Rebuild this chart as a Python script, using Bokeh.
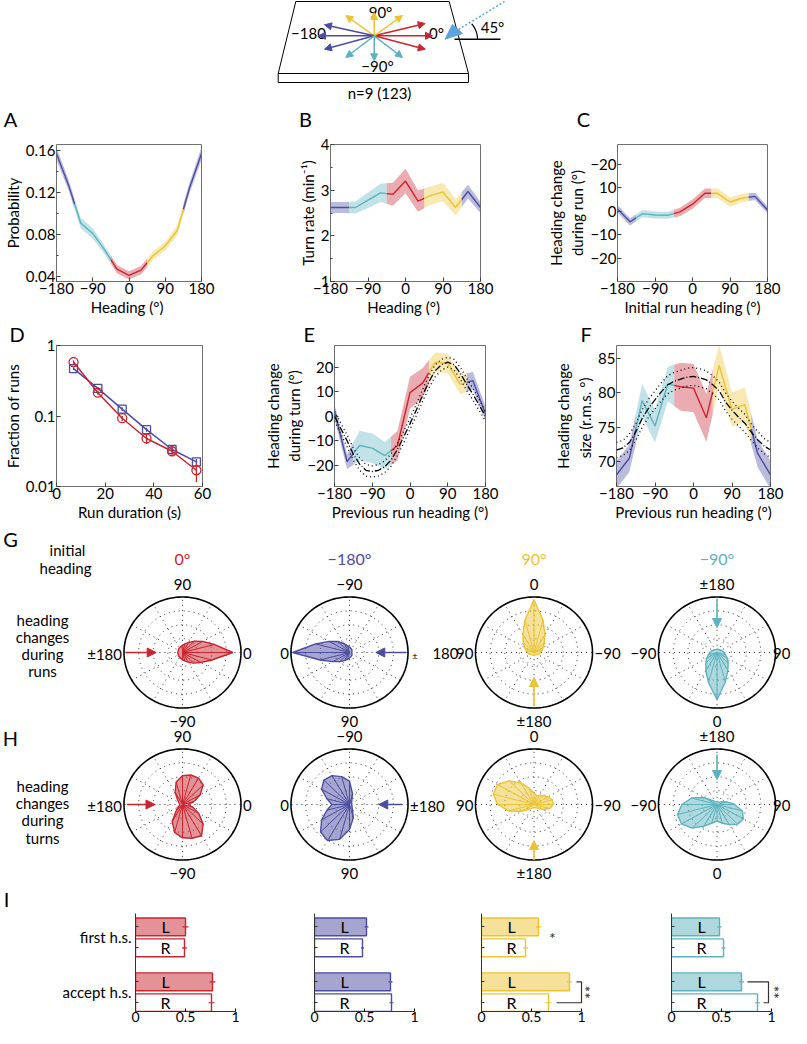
import numpy as np
from bokeh.plotting import figure
from bokeh.models import Range1d, FixedTicker, Arrow, NormalHead, Title
from bokeh.layouts import column, row
from bokeh.embed import file_html
from bokeh.resources import INLINE
from bokeh.core.properties import value

FONT = "Lato"
RED, BLUE, YEL, CYA = "#c8252f", "#4c4ca2", "#ebc433", "#5db2bd"

# ---------------- data ----------------
heading = [-180, -150, -120, -90, -60, -30, 0, 30, 60, 90, 120, 150, 180]
prob = [0.157, 0.127, 0.091, 0.081, 0.065, 0.047, 0.041, 0.046, 0.060, 0.069, 0.084, 0.124, 0.157]
prob_err = [0.006, 0.005, 0.005, 0.005, 0.004, 0.004, 0.004, 0.004, 0.004, 0.004, 0.005, 0.005, 0.006]
turn_rate = [2.62, 2.62, 2.62, 2.78, 2.94, 2.91, 3.20, 2.76, 2.88, 2.96, 2.62, 2.97, 2.62]
turn_rate_err = [0.12, 0.12, 0.13, 0.17, 0.20, 0.25, 0.27, 0.23, 0.20, 0.20, 0.18, 0.15, 0.12]
run_change = [1.0, -4.5, -1.0, -1.6, -1.7, -0.3, 3.0, 7.6, 7.6, 3.9, 5.6, 6.3, 0.5]
run_change_err = [1.5, 1.5, 1.5, 1.5, 1.5, 1.8, 2.0, 2.0, 2.0, 2.0, 1.8, 1.5, 1.5]
turn_change = [2.0, -18.5, -11.9, -13.0, -16.0, -12.0, 9.6, 13.5, 22.0, 21.5, 13.0, 14.5, 1.0]
turn_change_err = [3.0, 3.0, 6.0, 6.0, 5.5, 6.0, 6.5, 6.0, 4.0, 4.0, 4.0, 3.5, 3.0]
turn_size = [68.1, 70.5, 78.9, 75.2, 81.3, 80.9, 80.7, 76.4, 84.0, 77.6, 78.3, 71.2, 68.1]
turn_size_err = [2.0, 2.0, 2.4, 2.4, 2.5, 3.5, 3.5, 3.5, 3.0, 2.5, 2.5, 2.0, 2.0]

fit_heading = [-180, -165, -150, -135, -120, -105, -90, -75, -60, -45, -30, -15, 0,
               15, 30, 45, 60, 75, 90, 105, 120, 135, 150, 165, 180]
turn_change_fit = [0, -5, -10, -15.5, -19.5, -22, -22.5, -22, -20.5, -17.8, -13.5, -8.5, -3,
                   2.5, 8.5, 14, 18.5, 21, 22, 21, 17.5, 13, 9, 4.5, 0]
turn_change_ci = [2.0, 2.2, 2.4, 2.5, 2.5, 2.4, 2.3, 2.3, 2.4, 2.5, 2.5, 2.4, 2.3,
                  2.3, 2.4, 2.5, 2.4, 2.2, 2.0, 2.2, 2.4, 2.5, 2.4, 2.2, 2.0]
turn_size_fit = [71.7, 72.0, 72.8, 74.3, 76.3, 77.8, 79.0, 80.2, 81.2, 81.7, 82.0, 82.3, 82.4,
                 82.2, 81.9, 81.2, 80.3, 78.7, 77.5, 76.5, 75.6, 74.3, 73.2, 72.3, 71.7]
turn_size_ci = [1.1, 1.1, 1.2, 1.2, 1.3, 1.3, 1.3, 1.3, 1.3, 1.3, 1.3, 1.3, 1.3,
                1.3, 1.3, 1.3, 1.3, 1.3, 1.3, 1.3, 1.3, 1.2, 1.2, 1.1, 1.1]

duration = [7, 17, 27, 37, 47.5, 57.5]
frac_red = [0.583, 0.214, 0.093, 0.048, 0.0316, 0.017]
frac_red_lo = [0.55, 0.20, 0.085, 0.040, 0.027, 0.0115]
frac_red_hi = [0.62, 0.23, 0.100, 0.056, 0.037, 0.021]
frac_blue = [0.47, 0.246, 0.125, 0.064, 0.0335, 0.0224]
frac_blue_lo = [0.45, 0.235, 0.118, 0.060, 0.031, 0.0205]
frac_blue_hi = [0.49, 0.258, 0.133, 0.068, 0.036, 0.0245]

# polar distributions: heading change (deg) -> relative radius
delta = [-180, -165, -150, -135, -120, -105, -90, -75, -60, -45, -30, -15,
         0, 15, 30, 45, 60, 75, 90, 105, 120, 135, 150, 165]
run_red = [0.08, 0.08, 0.08, 0.09, 0.10, 0.11, 0.13, 0.16, 0.20, 0.27, 0.36, 0.52,
           0.86, 0.56, 0.40, 0.29, 0.21, 0.16, 0.13, 0.11, 0.10, 0.09, 0.08, 0.08]
run_blue = [0.04, 0.04, 0.05, 0.06, 0.07, 0.08, 0.10, 0.13, 0.18, 0.28, 0.40, 0.60,
            0.97, 0.52, 0.33, 0.23, 0.17, 0.13, 0.10, 0.08, 0.07, 0.06, 0.05, 0.04]
run_yellow = [0.05, 0.05, 0.05, 0.06, 0.07, 0.09, 0.11, 0.14, 0.18, 0.25, 0.37, 0.60,
              0.95, 0.60, 0.38, 0.26, 0.19, 0.14, 0.11, 0.09, 0.07, 0.06, 0.05, 0.05]
run_cyan = [0.06, 0.06, 0.06, 0.07, 0.08, 0.10, 0.12, 0.15, 0.20, 0.27, 0.38, 0.56,
            0.85, 0.55, 0.37, 0.27, 0.20, 0.15, 0.12, 0.10, 0.08, 0.07, 0.06, 0.06]
turn_red = [0.05, 0.05, 0.08, 0.15, 0.35, 0.52, 0.60, 0.63, 0.65, 0.50, 0.32, 0.18,
            0.10, 0.20, 0.35, 0.50, 0.55, 0.55, 0.52, 0.42, 0.25, 0.12, 0.07, 0.05]
turn_blue = [0.04, 0.04, 0.04, 0.05, 0.08, 0.20, 0.42, 0.52, 0.60, 0.62, 0.55, 0.40,
             0.30, 0.40, 0.55, 0.70, 0.75, 0.65, 0.45, 0.25, 0.10, 0.06, 0.05, 0.04]
turn_yellow = [0.06, 0.06, 0.07, 0.10, 0.18, 0.28, 0.33, 0.32, 0.28, 0.22, 0.18, 0.17,
               0.20, 0.30, 0.45, 0.60, 0.72, 0.72, 0.62, 0.45, 0.25, 0.12, 0.08, 0.06]
turn_cyan = [0.05, 0.05, 0.06, 0.10, 0.25, 0.45, 0.60, 0.70, 0.70, 0.60, 0.45, 0.35,
             0.30, 0.35, 0.42, 0.50, 0.52, 0.45, 0.30, 0.18, 0.10, 0.06, 0.05, 0.05]

groups = ["first h.s.", "accept h.s."]
sides = ["L", "R"]
bar_red = [0.50, 0.49, 0.77, 0.76]
bar_red_err = [0.03, 0.025, 0.03, 0.03]
bar_blue = [0.52, 0.48, 0.76, 0.77]
bar_blue_err = [0.02, 0.015, 0.02, 0.02]
bar_yellow = [0.57, 0.44, 0.88, 0.67]
bar_yellow_err = [0.025, 0.025, 0.025, 0.03]
bar_cyan = [0.48, 0.52, 0.70, 0.86]
bar_cyan_err = [0.02, 0.02, 0.025, 0.025]

segments = [(-180, -135, BLUE), (-135, -45, CYA), (-45, 45, RED), (45, 135, YEL), (135, 180, BLUE)]


# ---------------- helpers ----------------
def style(p, xticks, yticks, yminor=(), xover=None, yover=None, xlabel="", ylabel=""):
    p.grid.visible = False
    p.outline_line_color = "#707070"
    p.outline_line_width = 1
    for ax in (p.xaxis[0], p.yaxis[0]):
        ax.axis_line_color = None
        ax.major_tick_in = 4
        ax.major_tick_out = 0
        ax.minor_tick_in = 2
        ax.minor_tick_out = 0
        ax.major_tick_line_color = "#404040"
        ax.minor_tick_line_color = "#404040"
        ax.major_label_text_font = FONT
        ax.major_label_text_font_size = "15px"
        ax.major_label_text_color = "black"
        ax.axis_label_text_font = FONT
        ax.axis_label_text_font_size = "15px"
        ax.axis_label_text_font_style = "normal"
        ax.axis_label_text_color = "black"
        ax.major_label_standoff = 1
        ax.axis_label_standoff = 1
    p.xaxis[0].ticker = FixedTicker(ticks=list(xticks), minor_ticks=[])
    p.yaxis[0].ticker = FixedTicker(ticks=list(yticks), minor_ticks=list(yminor))
    if xover:
        p.xaxis[0].major_label_overrides = xover
    if yover:
        p.yaxis[0].major_label_overrides = yover
    p.xaxis[0].axis_label = xlabel
    p.yaxis[0].axis_label = ylabel


def txt(p, x, y, s, align="center", size="15px", color="black", angle=0.0):
    p.text(x=[x], y=[y], text=[s], text_align=align, text_baseline="middle", angle=angle,
           text_font=value(FONT), text_font_size=value(size), text_color=color)


def canvas(h, y0, y1):
    return figure(width=791, height=h, x_range=Range1d(8, 799), y_range=Range1d(y1, y0),
                  x_axis_type=None, y_axis_type=None, toolbar_location=None,
                  output_backend="svg", min_border=0, outline_line_color=None)


def segmented(p, x, y, e):
    x = np.asarray(x, float)
    y = np.asarray(y, float)
    e = np.asarray(e, float)
    pieces = []
    for lo, hi, c in segments:
        inner = (x > lo) & (x < hi)
        xs = np.concatenate([[lo], x[inner], [hi]])
        ys = np.interp(xs, x, y)
        es = np.interp(xs, x, e)
        pieces.append((xs, ys, es, c))
    for xs, ys, es, c in pieces:
        p.varea(x=xs, y1=ys - es, y2=ys + es, fill_color=c, fill_alpha=0.38)
    for xs, ys, es, c in pieces:
        p.line(xs, ys, line_color=c, line_width=1.4)


def fig(w, h, bl, br, bt, bb, **kw):
    return figure(width=w, height=h, toolbar_location=None, output_backend="svg",
                  min_border_left=bl, min_border_right=br, min_border_top=bt,
                  min_border_bottom=bb, **kw)


def panel_letter(p, s, offset):
    p.add_layout(Title(text=s, align="left", offset=offset, standoff=0, text_font=FONT,
                       text_font_size=LETTER, text_font_style="normal", text_color="black"), "above")


HX = [-180, -90, 0, 90, 180]
HXO = {-180: "\u2212180", -90: "\u221290"}
LETTER = "20px"

# ---------------- row 0: schematic + letters A B C ----------------
sch = canvas(132, 8, 140)
sch.patch([303.3, 456.7, 476, 285.7], [9, 9, 81, 81], fill_color="white", line_color="black", line_width=1)
sch.patch([285.7, 476, 476, 285.7], [81, 81, 90, 90], fill_color="white", line_color="black", line_width=1)
ox, oy = 381.7, 43.3
sch_arrows = [(RED, 432.7, 31), (RED, 440, 43.3), (RED, 432.7, 56.7),
              (YEL, 381.7, 20), (YEL, 353.3, 23), (YEL, 410, 23),
              (BLUE, 332, 32.3), (BLUE, 326, 43.3), (BLUE, 332, 56.7),
              (CYA, 381.7, 68.3), (CYA, 353.3, 65), (CYA, 410, 65)]
for c, ex, ey in sch_arrows:
    sch.add_layout(Arrow(end=NormalHead(size=7, fill_color=c, line_color=c),
                         x_start=ox, y_start=oy, x_end=ex, y_end=ey, line_color=c, line_width=1.5))
sch.patch([452.5, 460, 470], [46.7, 32, 41], fill_color="#5aa3de", line_color="#5aa3de")
sch.line([466, 512], [37, 9], line_color="#5aa3de", line_dash="2 2", line_width=1.5)
sch.line([462, 508], [46.7, 46.7], line_color="black", line_width=1.5)
arc_t = np.radians(np.linspace(0, 42, 20))
sch.line(462 + 23 * np.cos(arc_t), 46.7 - 23 * np.sin(arc_t), line_color="black", line_width=1.2)
for s, x, y in [("90\u00b0", 388, 19), ("\u2212180", 316, 41), ("0\u00b0", 444, 40),
                ("\u221290\u00b0", 385, 73), ("45\u00b0", 500, 34), ("n=9 (123)", 387, 100)]:
    txt(sch, x, y, s)
for s, x in [("A", 18), ("B", 313), ("C", 591)]:
    txt(sch, x, 126.5, s, size=LETTER)

# ---------------- row 1: A B C ----------------
pA = fig(260, 186, 51, 59, 7, 35, x_range=Range1d(-180, 180), y_range=Range1d(0.0352, 0.1657))
segmented(pA, heading, prob, prob_err)
style(pA, HX, [0.04, 0.08, 0.12, 0.16], [0.06, 0.10, 0.14], HXO, None, "Heading  (\u00b0)", "Probability")

pB = fig(277, 186, 70, 57, 10, 32, x_range=Range1d(-180, 180), y_range=Range1d(1, 4))
segmented(pB, heading, turn_rate, turn_rate_err)
style(pB, HX, [1, 2, 3, 4], [1.5, 2.5, 3.5], HXO, None, "Heading  (\u00b0)", "Turn rate (min\u207b\u00b9)")

pC = fig(254, 186, 80, 24, 12, 32, x_range=Range1d(-180, 180), y_range=Range1d(-29.8, 28.3))
segmented(pC, heading, run_change, run_change_err)
style(pC, HX, [-20, -10, 0, 10, 20], [], HXO, {-20: "\u221220", -10: "\u221210", 20: "\u221220"},
      "Initial run heading (\u00b0)", "Heading change\nduring run (\u00b0)")

# ---------------- row 2: D E F ----------------
pD = fig(260, 206, 50, 58, 26, 38, x_range=Range1d(0, 60), y_range=Range1d(0.01, 1), y_axis_type="log")
pD.line(duration, frac_blue, line_color=BLUE, line_width=1.5)
pD.segment(duration, frac_blue_lo, duration, frac_blue_hi, line_color=BLUE, line_width=1.3)
pD.scatter(duration, frac_blue, marker="square", size=8, fill_color=None, line_color=BLUE, line_width=1.3)
pD.line(duration, frac_red, line_color=RED, line_width=1.5)
pD.segment(duration, frac_red_lo, duration, frac_red_hi, line_color=RED, line_width=1.3)
pD.scatter(duration, frac_red, marker="circle", size=9, fill_color=None, line_color=RED, line_width=1.3)
style(pD, [0, 20, 40, 60], [0.01, 0.1, 1], [], None, {0.01: "0.01", 0.1: "0.1", 1: "1"},
      "Run duration (s)", "Fraction of runs")
panel_letter(pD, "D", -47)

pE = fig(277, 206, 73, 52, 27, 37, x_range=Range1d(-180, 180), y_range=Range1d(-28.6, 28.8))
segmented(pE, heading, turn_change, turn_change_err)
tcf = np.array(turn_change_fit)
tcc = np.array(turn_change_ci)
pE.line(fit_heading, tcf - tcc, line_color="black", line_dash="1 3", line_width=1.3)
pE.line(fit_heading, tcf + tcc, line_color="black", line_dash="1 3", line_width=1.3)
pE.line(fit_heading, tcf, line_color="black", line_dash="7 2 1 2", line_width=1.3)
style(pE, HX, [-20, -10, 0, 10, 20], [], HXO, {-20: "\u221220", -10: "\u221210"},
      "Previous run heading (\u00b0)", "Heading change\nduring turn (\u00b0)")
panel_letter(pE, "E", -31)

pF = fig(254, 206, 79, 21, 26, 35, x_range=Range1d(-180, 180), y_range=Range1d(66.4, 86.9))
segmented(pF, heading, turn_size, turn_size_err)
tsf = np.array(turn_size_fit)
tsc = np.array(turn_size_ci)
pF.line(fit_heading, tsf - tsc, line_color="black", line_dash="1 3", line_width=1.3)
pF.line(fit_heading, tsf + tsc, line_color="black", line_dash="1 3", line_width=1.3)
pF.line(fit_heading, tsf, line_color="black", line_dash="7 2 1 2", line_width=1.3)
style(pF, HX, [70, 75, 80, 85], [], HXO, None,
      "Previous run heading (\u00b0)", "Heading change\nsize  (r.m.s. \u00b0)")
panel_letter(pF, "F", -36)

# ---------------- row 3: polar plots G, H ----------------
pol = canvas(388, 532, 920)
RX, RY = 58.5, 55.5
ring = np.linspace(0, 2 * np.pi, 241)


def polar(p, cx, cy, h0, r, color, top, bottom, left, right, a0=0.97, a1=0.45):
    for rr in (0.25, 0.5, 0.75):
        p.line(cx + rr * RX * np.cos(ring), cy - rr * RY * np.sin(ring),
               line_color="#333333", line_dash="1 4", line_width=1)
    ang = np.radians(np.arange(0, 360, 30))
    p.segment(x0=cx + 0.12 * RX * np.cos(ang), y0=cy - 0.12 * RY * np.sin(ang),
              x1=cx + RX * np.cos(ang), y1=cy - RY * np.sin(ang),
              line_color="#333333", line_dash="1 4", line_width=1)
    p.line(cx + RX * np.cos(ring), cy - RY * np.sin(ring), line_color="black", line_width=1.6)
    phi = np.radians(h0 + np.asarray(delta, float))
    rv = np.asarray(r, float)
    xs = cx + rv * RX * np.cos(phi)
    ys = cy - rv * RY * np.sin(phi)
    p.patch(np.append(xs, xs[0]), np.append(ys, ys[0]), fill_color=color, fill_alpha=0.5,
            line_color=color, line_width=1.4)
    m = rv > 0.12
    n = int(m.sum())
    p.segment(x0=[cx] * n, y0=[cy] * n, x1=xs[m], y1=ys[m], line_color=color, line_width=1.0)
    a = np.radians(h0 + 180)
    p.add_layout(Arrow(end=NormalHead(size=9, fill_color=color, line_color=color),
                       x_start=cx + a0 * RX * np.cos(a), y_start=cy - a0 * RY * np.sin(a),
                       x_end=cx + a1 * RX * np.cos(a), y_end=cy - a1 * RY * np.sin(a),
                       line_color=color, line_width=1.6))
    if top:
        txt(p, cx, cy - RY - 13, top)
    if bottom:
        txt(p, cx, cy + RY + 13, bottom)
    if left:
        txt(p, cx - RX - 2, cy + 1, left, align="right")
    if right:
        if cx + RX + 22 > 799:
            txt(p, 798, cy + 1, right, align="right")
        else:
            txt(p, cx + RX + 2, cy + 1, right, align="left")


CX = [190, 357, 541.5, 724.5]
GY, HY = 660, 812
polar(pol, CX[0], GY, 0, run_red, RED, "90", "\u221290", "\u00b1180", "0")
polar(pol, CX[1], GY, -180, run_blue, BLUE, "\u221290", "90", "0", None)
polar(pol, CX[2], GY, 90, run_yellow, YEL, "0", "\u00b1180", "90", "\u221290")
polar(pol, CX[3], GY, -90, run_cyan, CYA, "\u00b1180", "0", "\u221290", "90")
txt(pol, CX[1] + RX + 4, GY + 2, "\u00b1", align="left", size="10px")
txt(pol, CX[2] - RX - 17, GY + 1, "180", align="right")
polar(pol, CX[0], HY, 0, turn_red, RED, "90", "\u221290", "\u00b1180", "0", 0.95, 0.47)
polar(pol, CX[1], HY, -180, turn_blue, BLUE, "\u221290", "90", "0", "\u00b1180", 0.9, 0.5)
polar(pol, CX[2], HY, 90, turn_yellow, YEL, "0", "\u00b1180", "90", "\u221290", 1.0, 0.65)
polar(pol, CX[3], HY, -90, turn_cyan, CYA, "\u00b1180", "0", "\u221290", "90", 0.9, 0.45)

for s, x, c in [("0\u00b0", CX[0], RED), ("\u2212180\u00b0", CX[1], BLUE),
                ("90\u00b0", CX[2], YEL), ("\u221290\u00b0", CX[3], CYA)]:
    txt(pol, x, 566, s, size="16px", color=c)
txt(pol, 75, 557, "initial")
txt(pol, 73, 575, "heading")
for i, s in enumerate(["heading", "changes", "during", "runs"]):
    txt(pol, 50, 627 + 17.2 * i, s)
for i, s in enumerate(["heading", "changes", "during", "turns"]):
    txt(pol, 50, 793.5 + 17.2 * i, s)
txt(pol, 18, 546, "G", size=LETTER)
txt(pol, 18, 745, "H", size=LETTER)
txt(pol, 14, 906, "I", size=LETTER)

# ---------------- row 4: bars I ----------------
FACTOR_STEP, GROUP_STEP = 1.08, 1.75
keys = [(g, s) for g in groups for s in sides]
ypos = [gi * (FACTOR_STEP + GROUP_STEP) + si * FACTOR_STEP
        for gi in range(len(groups)) for si in range(len(sides))]
ygroup = [gi * (FACTOR_STEP + GROUP_STEP) + FACTOR_STEP / 2 for gi in range(len(groups))]


def bars(width, bl, br, vals, errs, color, show_labels):
    p = fig(width, 116, bl, br, 1, 17, x_range=Range1d(0, 1.15),
            y_range=Range1d(ypos[-1] + 0.45, ypos[0] - 0.69))
    p.grid.visible = False
    p.outline_line_color = None
    v = np.asarray(vals, float)
    e = np.asarray(errs, float)
    p.hbar(y=ypos, left=0, right=v, height=0.92, fill_color=[color, "white", color, "white"],
           fill_alpha=0.5, line_color=color, line_width=1.4)
    p.segment(x0=v - e, y0=ypos, x1=v + e, y1=ypos, line_color=color, line_width=1.2)
    p.text(x=[0.3] * len(keys), y=ypos, text=[k[1] for k in keys], text_align="center",
           text_baseline="middle", text_font=value(FONT), text_font_size=value("16px"),
           text_color="black")
    xa = p.xaxis[0]
    xa.ticker = FixedTicker(ticks=[0, 0.5, 1], minor_ticks=[])
    xa.bounds = (0, 1)
    xa.axis_line_color = "#333333"
    xa.major_tick_in = 3
    xa.major_tick_out = 0
    xa.major_label_text_font = FONT
    xa.major_label_text_font_size = "14px"
    xa.major_label_text_color = "black"
    xa.major_label_standoff = 0
    ya = p.yaxis[0]
    ya.axis_line_color = "#333333"
    ya.major_tick_in = 0
    ya.major_tick_out = 0
    ya.minor_tick_in = 3
    ya.minor_tick_out = 0
    ya.minor_tick_line_color = "#333333"
    if show_labels:
        ya.ticker = FixedTicker(ticks=ygroup, minor_ticks=ypos)
        ya.major_label_overrides = {ygroup[i]: groups[i] for i in range(len(groups))}
        ya.major_label_text_font = FONT
        ya.major_label_text_font_size = "15px"
        ya.major_label_text_color = "black"
        ya.major_label_standoff = 4
    else:
        ya.ticker = FixedTicker(ticks=[], minor_ticks=ypos)
    return p


i1 = bars(294, 135, 44, bar_red, bar_red_err, RED, True)
i2 = bars(167, 20, 32, bar_blue, bar_blue_err, BLUE, False)
i3 = bars(190, 20, 55, bar_yellow, bar_yellow_err, YEL, False)
i4 = bars(140, 20, 5, bar_cyan, bar_cyan_err, CYA, False)

yL, yR = ypos[2], ypos[3]
i3.line(x=[0.95, 1.0, 1.0, 0.75], y=[yL, yL, yR, yR], line_color="#333333", line_width=1.2)
i3.text(x=[1.08], y=[ygroup[1]], text=["**"], angle=np.pi / 2, text_align="center",
        text_baseline="middle", text_font=value(FONT), text_font_size=value("16px"), text_color="#333333")
i3.text(x=[0.71], y=[ygroup[0]], text=["*"], text_align="center", text_baseline="middle",
        text_font=value(FONT), text_font_size=value("16px"), text_color="#333333")
i4.line(x=[0.76, 0.97, 0.97, 0.92], y=[yL, yL, yR, yR], line_color="#333333", line_width=1.2)
i4.text(x=[1.065], y=[ygroup[1]], text=["**"], angle=np.pi / 2, text_align="center",
        text_baseline="middle", text_font=value(FONT), text_font_size=value("16px"), text_color="#333333")

layout = column(sch, row(pA, pB, pC), row(pD, pE, pF), pol, row(i1, i2, i3, i4))
open("out.html", "w").write(file_html(layout, INLINE, title="figure"))
